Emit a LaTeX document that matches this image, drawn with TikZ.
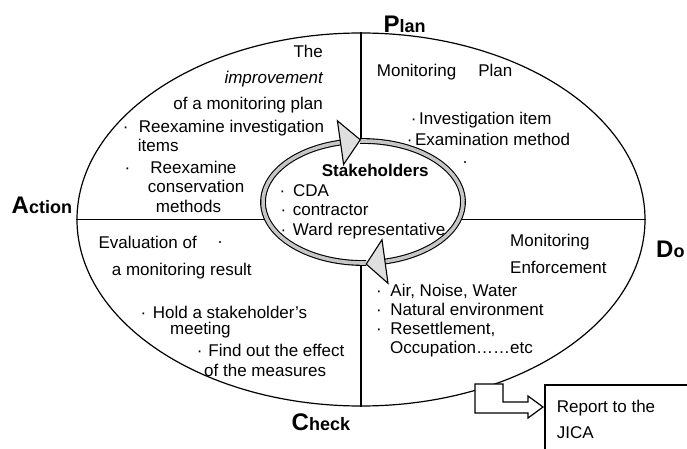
\documentclass[tikz,border=0pt]{standalone}
\usepackage{fontspec}
\setmainfont{Liberation Sans}
\usetikzlibrary{shapes.geometric}
\begin{document}
\begin{tikzpicture}[x=1pt,y=-1pt,
  txt/.style={anchor=base west, inner sep=0pt, font=\fontsize{17}{20}\selectfont},
  txtr/.style={txt, anchor=base east},
  phase/.style={anchor=base west, inner sep=0pt},
  band/.style={line width=1.1pt, double=gray!45, double distance=3.6pt},
  head/.style={draw, line width=1.1pt, fill=gray!25, line join=miter},
  divider/.style={line width=1.1pt},
  outline/.style={line width=1.2pt}]
\useasboundingbox (0,0) rectangle (687,449);

% PDCA cycle outline
\node[ellipse, draw, outline, minimum width=568pt, minimum height=373pt, inner sep=0pt] (cycle) at (361,219.5) {};

% inner loop geometry
\coordinate (hub) at (363,202);
\coordinate (tA) at (360.3,139.8);
\coordinate (tB1) at (337.4,120.8);
\coordinate (tB2) at (343.6,164.4);
\coordinate (bA) at (366.2,264.1);
\coordinate (bB1) at (382,239.7);
\coordinate (bB2) at (388,283.3);
\coordinate (loopW) at (264,219.5);
\coordinate (loopE) at (461,219.5);

% quadrant dividers
\draw[divider] (cycle.north) -- (cycle.north |- tA);
\draw[divider] (cycle.south) -- (cycle.south |- bA);
\draw[divider] (cycle.west) -- (loopW);
\draw[divider] (loopE) -- (cycle.east);

% circulating band with its two heads
\draw[band] (hub) ++(-91.7:100 and 61) arc[start angle=-91.7, end angle=77.3, x radius=100, y radius=61];
\draw[band] (hub) ++(88.2:100 and 61) arc[start angle=88.2, end angle=257, x radius=100, y radius=61];
\draw[head] (tB1) -- (tA) -- (tB2) -- cycle;
\draw[head] (bB1) -- (bA) -- (bB2) -- cycle;

% phase labels
\node[phase] (plan) at (383.5,33) {\fontsize{24}{24}\selectfont\bfseries P\fontsize{18}{18}\selectfont lan};
\node[phase] (action) at (11.5,213.5) {\fontsize{24}{24}\selectfont\bfseries A\fontsize{18}{18}\selectfont ction};
\node[phase] (do) at (656,257) {\fontsize{24}{24}\selectfont\bfseries D\fontsize{18}{18}\selectfont o};
\node[phase] (check) at (291.5,430) {\fontsize{24}{24}\selectfont\bfseries C\fontsize{18}{18}\selectfont heck};

% Action quadrant
\node[txtr] (a1) at (323,58) {The};
\node[txtr] (a2) at (323,84) {\itshape improvement};
\node[txtr] (a3) at (323,110) {of a monitoring plan};
\node[txt] (a4) at (122.6,133) {·\hspace{10.4pt}Reexamine investigation};
\node[txt] (a5) at (137.7,152) {items};
\node[txt] (a6) at (124.3,173) {·\hspace{20.3pt}Reexamine};
\node[txt] (a7) at (147.7,192) {conservation};
\node[txt] (a8) at (155.7,212) {methods};

% Plan quadrant
\node[txt] (p1) at (376.7,77) {Monitoring\hspace{22pt}Plan};
\node[txt] (p2) at (410.6,125) {·\hspace{2.7pt}Investigation item};
\node[txt] (p3) at (406.6,145.5) {·\hspace{2.7pt}Examination method};
\fill (465,162) circle (1.1);

% stakeholders in the middle
\node[anchor=base west, inner sep=0pt, font=\fontsize{17}{20}\selectfont\bfseries] (s0) at (321.7,176) {Stakeholders};
\node[txt] (s1) at (279.5,196.5) {·\hspace{7.7pt}CDA};
\node[txt] (s2) at (280.3,215) {·\hspace{6.7pt}contractor};
\node[txt] (s3) at (280.3,235) {·\hspace{6.7pt}Ward representative};

% Check quadrant
\node[txt] (c1) at (98.3,248) {Evaluation of};
\fill (220,242) circle (1.1);
\node[txt] (c2) at (111.7,275) {a monitoring result};
\node[txt] (c3) at (140.3,318) {·\hspace{6.7pt}Hold a stakeholder’s};
\node[txt] (c4) at (170,334.5) {meeting};
\node[txt] (c5) at (196.6,356) {·\hspace{6pt}Find out the effect};
\node[txt] (c6) at (204,376) {of the measures};

% Do quadrant
\node[txt] (d1) at (510,246.5) {Monitoring};
\node[txt] (d2) at (510,273) {Enforcement};
\node[txt] (d3) at (375.9,296) {·\hspace{8.7pt}Air, Noise, Water};
\node[txt] (d4) at (375.9,315) {·\hspace{8.7pt}Natural environment};
\node[txt] (d5) at (375.9,334) {·\hspace{8.7pt}Resettlement,};
\node[txt] (d6) at (390,353.5) {Occupation……etc};

% report box and the bent block arrow leading to it
\coordinate (boxfoot) at (545,449);
\coordinate (boxcorner) at (545,385);
\coordinate (boxend) at (687,385);
\draw[outline] (boxfoot) -- (boxcorner) -- (boxend);
\node[txt] (r1) at (556.7,412.2) {Report to the};
\node[txt] (r2) at (556.7,438.5) {JICA};
\draw[outline, fill=white, line join=miter]
  (475,384) -- (503,384) -- (503,402) -- (528,402) -- (528,396)
  -- (543,407) -- (528,418) -- (528,413) -- (475,413) -- cycle;
\end{tikzpicture}
\end{document}
